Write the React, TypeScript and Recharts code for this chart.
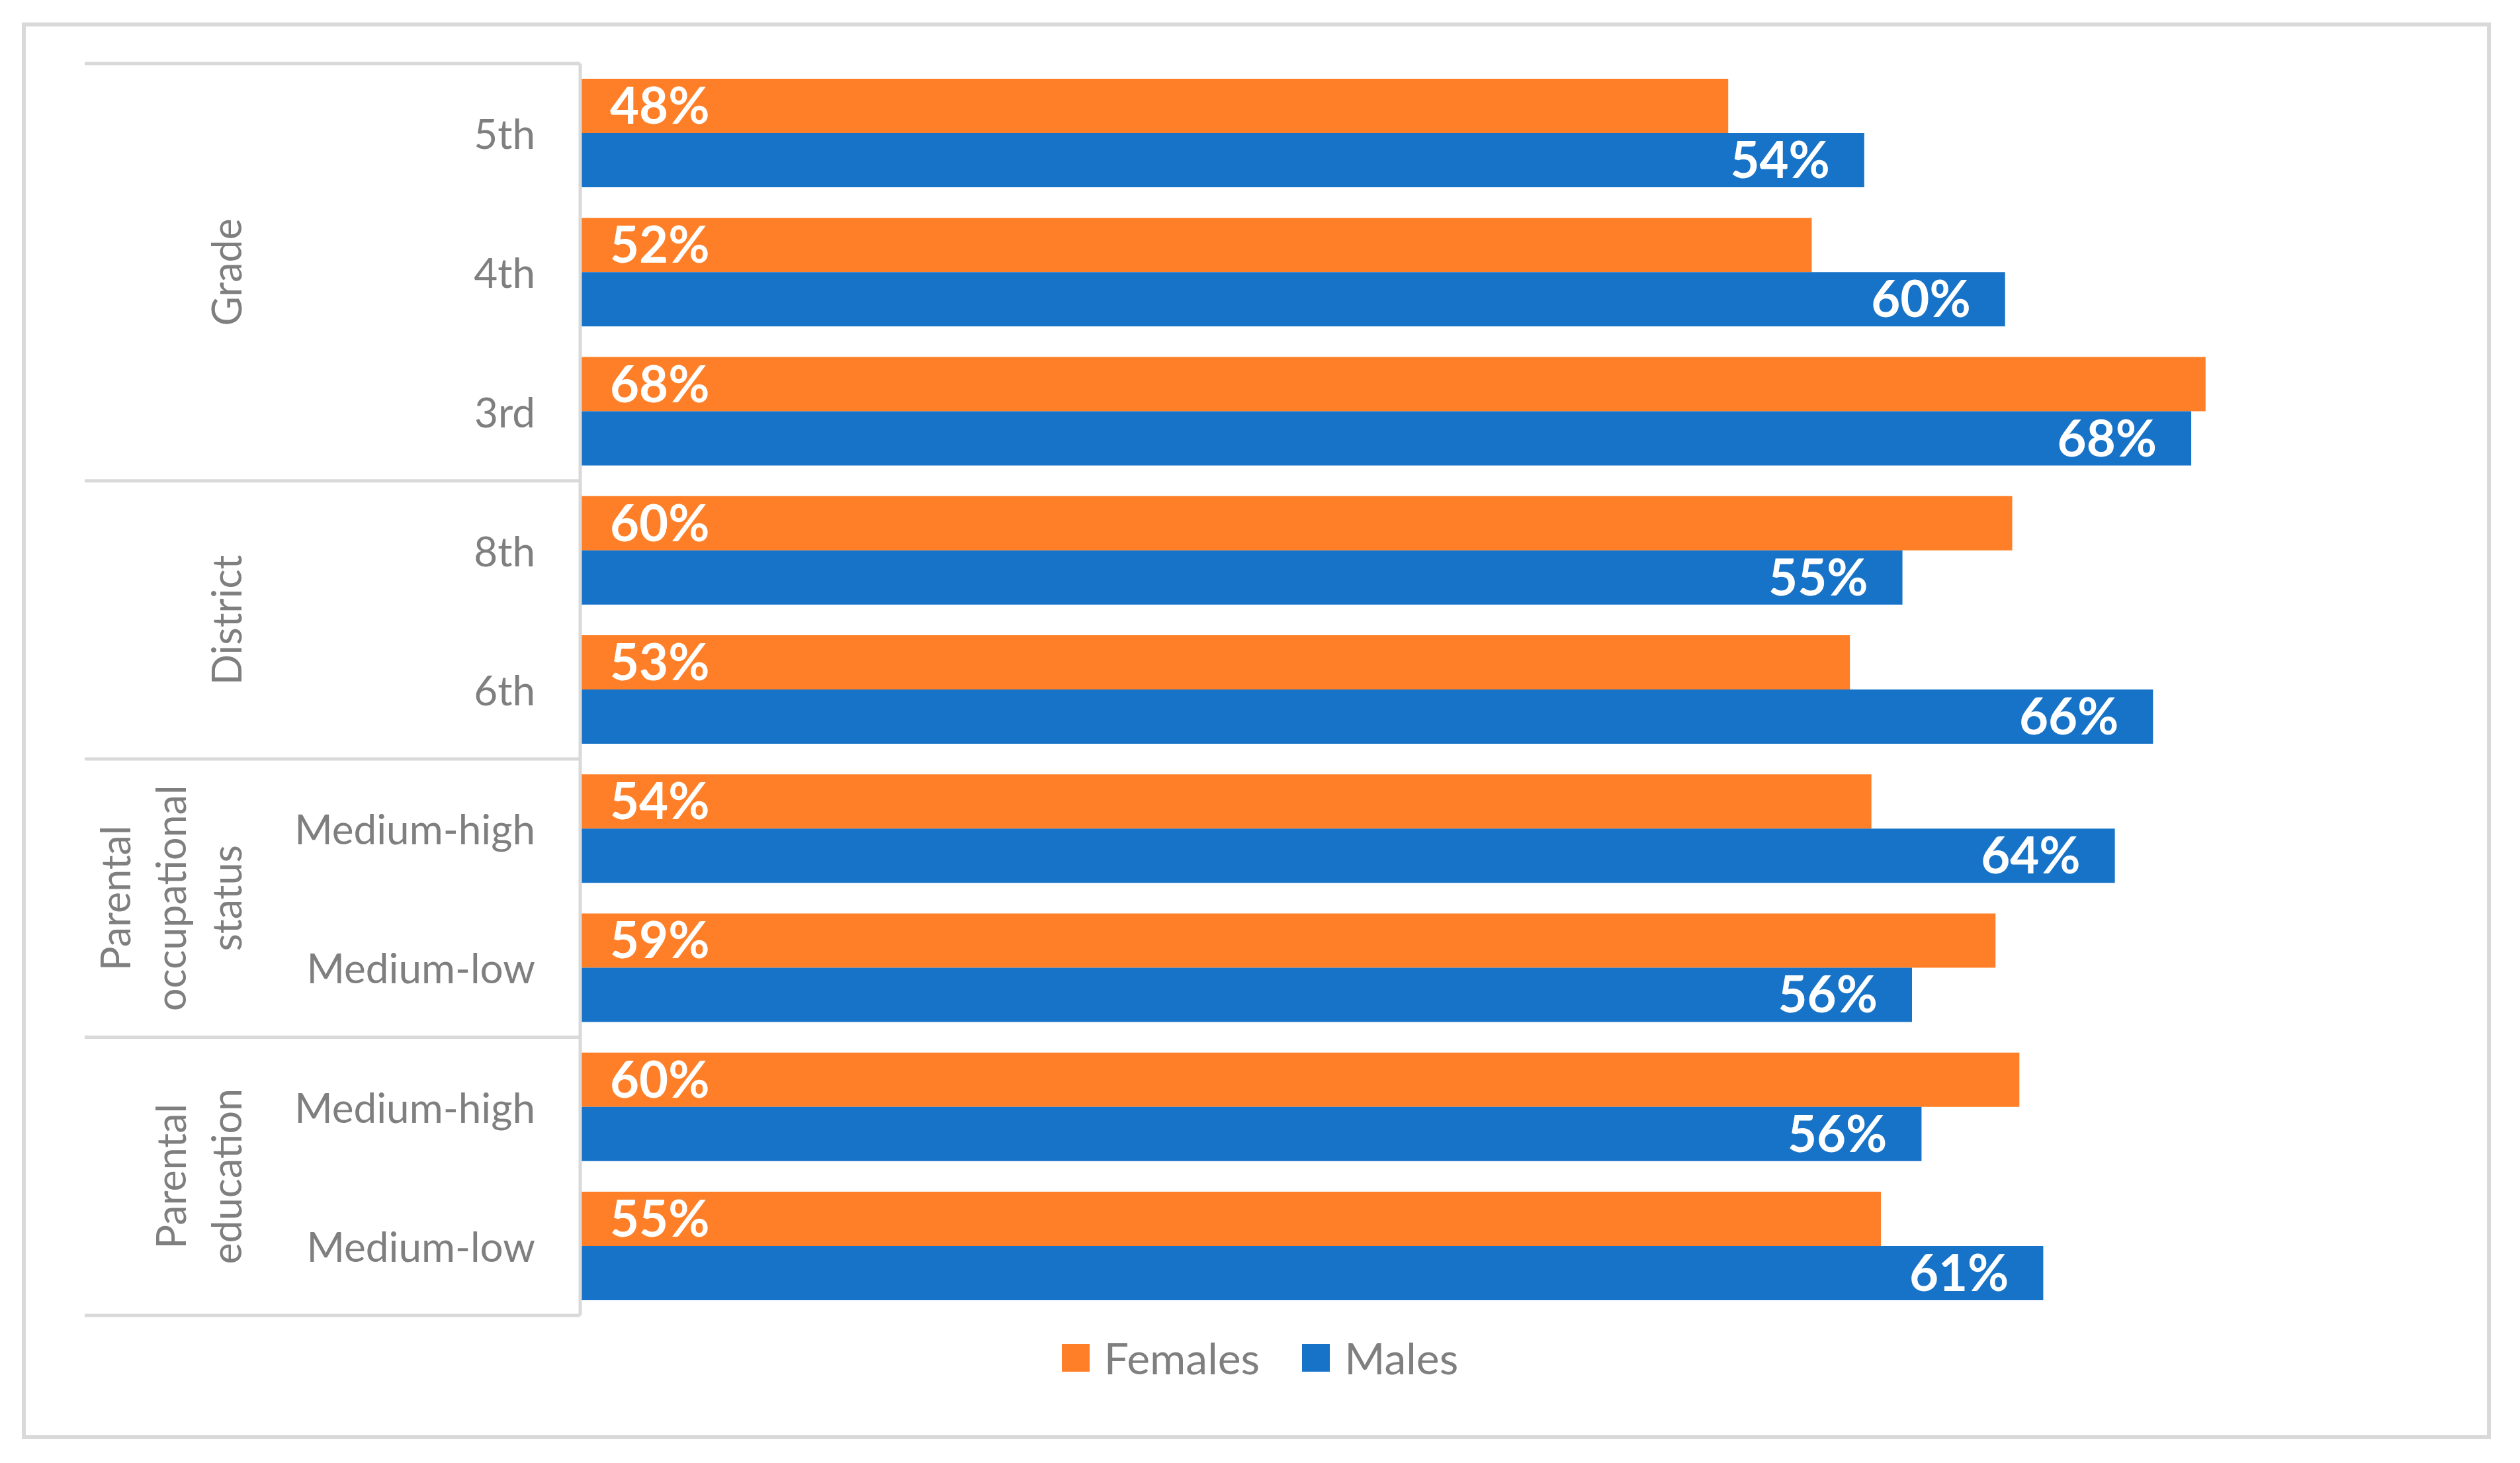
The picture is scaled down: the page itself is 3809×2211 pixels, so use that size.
import React from 'react';
import { BarChart, Bar, XAxis, YAxis, LabelList, Legend } from 'recharts';

// categories, top to bottom
const subLabels = ['5th', '4th', '3rd', '8th', '6th', 'Medium-high', 'Medium-low', 'Medium-high', 'Medium-low'];
const groupOf = [0, 0, 0, 1, 1, 2, 2, 3, 3];
const groupNames = [['Grade'], ['District'], ['Parental', 'occupational', 'status'], ['Parental', 'education']];

// percentages
const females = [48.1, 51.6, 68.1, 60.0, 53.2, 54.1, 59.3, 60.3, 54.5];
const males = [53.8, 59.7, 67.5, 55.4, 65.9, 64.3, 55.8, 56.2, 61.3];
const seriesNames = ['Females', 'Males'];

const data = subLabels.map((s, i) => ({
  key: `${i}-${s}`,
  females: females[i],
  males: males[i],
}));

const W = 3809;
const H = 2211;
const MARGIN = { top: 96, right: 46, bottom: 223, left: 0 };
const AXIS_W = 877;
const BAND = (H - MARGIN.top - MARGIN.bottom) / data.length;
const TABLE_LEFT = 128;

const GREY = '#7f7f7f';
const LINE = '#d9d9d9';
const ORANGE = '#FE7F27';
const BLUE = '#1773C8';

const CategoryTick = (props: any) => {
  const { x, y, payload } = props;
  const i = data.findIndex((d) => d.key === payload.value);
  if (i < 0) return null;
  const g = groupOf[i];
  const first = i === 0 || groupOf[i - 1] !== g;
  const last = i === data.length - 1;
  const size = groupOf.filter((v) => v === g).length;
  const cy = y + ((size - 1) / 2) * BAND;
  const lines = groupNames[g];
  return (
    <g>
      <text x={x - 68} y={y} textAnchor="end" dominantBaseline="central" fill={GREY} fontSize={62}>
        {subLabels[i]}
      </text>
      {first && (
        <line x1={TABLE_LEFT} x2={x} y1={y - BAND / 2} y2={y - BAND / 2} stroke={LINE} strokeWidth={5} />
      )}
      {first &&
        lines.map((t, k) => {
          const cx = 342 - (lines.length - 1 - k) * 84;
          return (
            <text
              key={k}
              x={cx}
              y={cy}
              transform={`rotate(-90 ${cx} ${cy})`}
              textAnchor="middle"
              dominantBaseline="central"
              fill={GREY}
              fontSize={61}
            >
              {t}
            </text>
          );
        })}
      {last && (
        <line x1={TABLE_LEFT} x2={x} y1={y + BAND / 2} y2={y + BAND / 2} stroke={LINE} strokeWidth={5} />
      )}
    </g>
  );
};

const LegendContent = ({ payload }: any) => (
  <div style={{ display: 'flex', justifyContent: 'center', alignItems: 'center', height: 76 }}>
    {(payload || []).map((p: any, i: number) => (
      <div key={p.value} style={{ display: 'flex', alignItems: 'center', marginRight: i === 0 ? 64 : 0 }}>
        <span style={{ display: 'inline-block', width: 42, height: 42, background: p.color, marginRight: 22 }} />
        <span style={{ fontSize: 66, color: GREY, lineHeight: '76px' }}>{p.value}</span>
      </div>
    ))}
  </div>
);

const pct = (v: any) => `${Math.round(Number(v))}%`;

export default function App() {
  return (
    <div
      style={{
        position: 'absolute',
        left: 0,
        top: 0,
        width: W,
        height: H,
        background: '#fff',
        fontFamily: 'Lato, sans-serif',
      }}
    >
      <div
        style={{
          position: 'absolute',
          left: 33,
          top: 34,
          width: 3732,
          height: 2141,
          border: `6px solid ${LINE}`,
          boxSizing: 'border-box',
          pointerEvents: 'none',
        }}
      />
      <BarChart
        width={W}
        height={H}
        data={data}
        layout="vertical"
        margin={MARGIN}
        barCategoryGap="11%"
        barGap={0}
      >
        <XAxis type="number" domain={[0, 80]} hide />
        <YAxis
          type="category"
          dataKey="key"
          width={AXIS_W}
          interval={0}
          tickLine={false}
          tickSize={0}
          tickMargin={0}
          axisLine={{ stroke: LINE, strokeWidth: 5 }}
          tick={<CategoryTick />}
        />
        <Legend
          layout="horizontal"
          verticalAlign="middle"
          align="center"
          content={<LegendContent />}
          wrapperStyle={{ top: 2014, left: 0, width: W, height: 76 }}
        />
        <Bar dataKey="females" name={seriesNames[0]} fill={ORANGE} isAnimationActive={false}>
          <LabelList
            dataKey="females"
            position="insideLeft"
            offset={45}
            fill="#fff"
            fontSize={76}
            fontWeight={700}
            formatter={pct}
          />
        </Bar>
        <Bar dataKey="males" name={seriesNames[1]} fill={BLUE} isAnimationActive={false}>
          <LabelList
            dataKey="males"
            position="insideRight"
            offset={52}
            fill="#fff"
            fontSize={76}
            fontWeight={700}
            formatter={pct}
          />
        </Bar>
      </BarChart>
    </div>
  );
}
